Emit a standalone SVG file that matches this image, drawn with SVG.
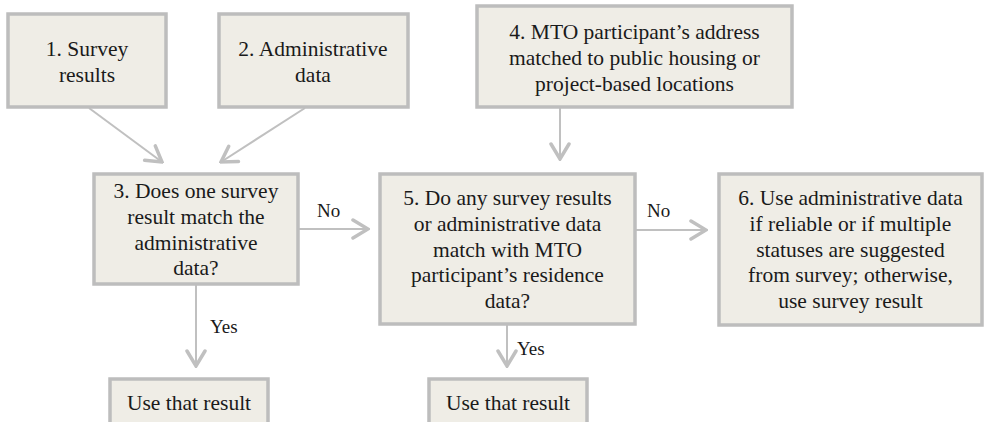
<svg xmlns="http://www.w3.org/2000/svg" width="984" height="422" viewBox="0 0 984 422">
<defs>
<marker id="arr" markerUnits="userSpaceOnUse" viewBox="-18 -12 20 24" refX="0" refY="0" markerWidth="20" markerHeight="24" orient="auto">
<path d="M-15,-9 L0,0 L-15,9" stroke="#c0c0c0" stroke-width="3.5" fill="none" stroke-linecap="round"/>
</marker>
</defs>
<rect width="984" height="422" fill="#ffffff"/>
<g id="connectors" stroke="#c0c0c0" stroke-width="2" fill="none">
<line x1="89" y1="108" x2="162" y2="162" marker-end="url(#arr)"/>
<line x1="305" y1="108" x2="221" y2="162" marker-end="url(#arr)"/>
<line x1="560" y1="108" x2="560" y2="159" marker-end="url(#arr)"/>
<line x1="298" y1="229" x2="368" y2="229" marker-end="url(#arr)"/>
<line x1="636" y1="230" x2="706" y2="230" marker-end="url(#arr)"/>
<line x1="196" y1="285" x2="196" y2="366" marker-end="url(#arr)"/>
<line x1="507" y1="325" x2="507" y2="366" marker-end="url(#arr)"/>
</g>
<g id="labels">
<text x="317" y="217" style="font-family:'Liberation Serif',serif;font-size:19px;fill:#1a1a1a">No</text>
<text x="647" y="217" style="font-family:'Liberation Serif',serif;font-size:19px;fill:#1a1a1a">No</text>
<text x="210" y="333" style="font-family:'Liberation Serif',serif;font-size:19px;fill:#1a1a1a">Yes</text>
<text x="517" y="355" style="font-family:'Liberation Serif',serif;font-size:19px;fill:#1a1a1a">Yes</text>
</g>
<g id="n1">
<rect x="8" y="14" width="158" height="93" fill="#efede6" stroke="#bdbdbd" stroke-width="3.5"/>
<text x="87" y="56" style="font-family:'Liberation Serif',serif;font-size:21.5px;fill:#1a1a1a;text-anchor:middle">1. Survey</text>
<text x="87" y="82" style="font-family:'Liberation Serif',serif;font-size:21.5px;fill:#1a1a1a;text-anchor:middle">results</text>
</g>
<g id="n2">
<rect x="219" y="14" width="189" height="93" fill="#efede6" stroke="#bdbdbd" stroke-width="3.5"/>
<text x="313" y="56" style="font-family:'Liberation Serif',serif;font-size:21.5px;fill:#1a1a1a;text-anchor:middle">2. Administrative</text>
<text x="313" y="82" style="font-family:'Liberation Serif',serif;font-size:21.5px;fill:#1a1a1a;text-anchor:middle">data</text>
</g>
<g id="n4">
<rect x="477" y="6" width="315" height="101" fill="#efede6" stroke="#bdbdbd" stroke-width="3.5"/>
<text x="634.5" y="39" style="font-family:'Liberation Serif',serif;font-size:21.5px;fill:#1a1a1a;text-anchor:middle">4. MTO participant’s address</text>
<text x="634.5" y="65" style="font-family:'Liberation Serif',serif;font-size:21.5px;fill:#1a1a1a;text-anchor:middle">matched to public housing or</text>
<text x="634.5" y="91" style="font-family:'Liberation Serif',serif;font-size:21.5px;fill:#1a1a1a;text-anchor:middle">project-based locations</text>
</g>
<g id="n3">
<rect x="94" y="174" width="204" height="110" fill="#efede6" stroke="#bdbdbd" stroke-width="3.5"/>
<text x="196" y="198" style="font-family:'Liberation Serif',serif;font-size:21.5px;fill:#1a1a1a;text-anchor:middle">3. Does one survey</text>
<text x="196" y="224" style="font-family:'Liberation Serif',serif;font-size:21.5px;fill:#1a1a1a;text-anchor:middle">result match the</text>
<text x="196" y="250" style="font-family:'Liberation Serif',serif;font-size:21.5px;fill:#1a1a1a;text-anchor:middle">administrative</text>
<text x="196" y="275" style="font-family:'Liberation Serif',serif;font-size:21.5px;fill:#1a1a1a;text-anchor:middle">data?</text>
</g>
<g id="n5">
<rect x="380" y="174" width="255" height="150" fill="#efede6" stroke="#bdbdbd" stroke-width="3.5"/>
<text x="507.5" y="205" style="font-family:'Liberation Serif',serif;font-size:21.5px;fill:#1a1a1a;text-anchor:middle">5. Do any survey results</text>
<text x="507.5" y="231" style="font-family:'Liberation Serif',serif;font-size:21.5px;fill:#1a1a1a;text-anchor:middle">or administrative data</text>
<text x="507.5" y="257" style="font-family:'Liberation Serif',serif;font-size:21.5px;fill:#1a1a1a;text-anchor:middle">match with MTO</text>
<text x="507.5" y="282" style="font-family:'Liberation Serif',serif;font-size:21.5px;fill:#1a1a1a;text-anchor:middle">participant’s residence</text>
<text x="507.5" y="308" style="font-family:'Liberation Serif',serif;font-size:21.5px;fill:#1a1a1a;text-anchor:middle">data?</text>
</g>
<g id="n6">
<rect x="719" y="174" width="263" height="151" fill="#efede6" stroke="#bdbdbd" stroke-width="3.5"/>
<text x="850.5" y="205" style="font-family:'Liberation Serif',serif;font-size:21.5px;fill:#1a1a1a;text-anchor:middle">6. Use administrative data</text>
<text x="850.5" y="231" style="font-family:'Liberation Serif',serif;font-size:21.5px;fill:#1a1a1a;text-anchor:middle">if reliable or if multiple</text>
<text x="850.5" y="257" style="font-family:'Liberation Serif',serif;font-size:21.5px;fill:#1a1a1a;text-anchor:middle">statuses are suggested</text>
<text x="850.5" y="282" style="font-family:'Liberation Serif',serif;font-size:21.5px;fill:#1a1a1a;text-anchor:middle">from survey; otherwise,</text>
<text x="850.5" y="308" style="font-family:'Liberation Serif',serif;font-size:21.5px;fill:#1a1a1a;text-anchor:middle">use survey result</text>
</g>
<g id="n7">
<rect x="110" y="379" width="158" height="60" fill="#efede6" stroke="#bdbdbd" stroke-width="3.5"/>
<text x="189" y="410" style="font-family:'Liberation Serif',serif;font-size:21.5px;fill:#1a1a1a;text-anchor:middle">Use that result</text>
</g>
<g id="n8">
<rect x="429" y="379" width="158" height="60" fill="#efede6" stroke="#bdbdbd" stroke-width="3.5"/>
<text x="508" y="410" style="font-family:'Liberation Serif',serif;font-size:21.5px;fill:#1a1a1a;text-anchor:middle">Use that result</text>
</g>
</svg>
